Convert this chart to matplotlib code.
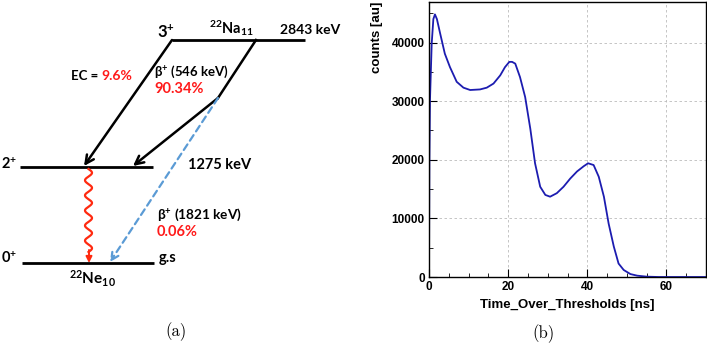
import numpy as np
import matplotlib
matplotlib.use("Agg")
import matplotlib.pyplot as plt
from matplotlib.ticker import MultipleLocator

plt.rcParams['mathtext.fontset'] = 'custom'
plt.rcParams['mathtext.rm'] = 'Lato:bold'
plt.rcParams['mathtext.it'] = 'Lato:bold'
plt.rcParams['mathtext.bf'] = 'Lato:bold'

# right panel: ToT spectrum
tot_ns = [0, 0.1, 0.25, 0.68, 1.1, 1.5, 2.0, 2.8, 4.0, 5.3, 7.0, 8.7, 10.4,
          12.9, 14.6, 16.3, 18.0, 19.2, 20.3, 21.0, 21.8, 23.0, 24.3, 25.6,
          26.8, 28.1, 29.4, 30.6, 32.3, 34.0, 35.7, 37.4, 39.1, 40.2, 41.6,
          42.9, 44.2, 45.4, 46.7, 47.9, 49.2, 50.9, 52.6, 55.0, 58.0, 70.0]
counts = [0, 20000, 30200, 39800, 44000, 44800, 44000, 41600, 38100, 35800,
          33300, 32300, 31900, 32000, 32300, 33000, 34400, 35800, 36700, 36700,
          36400, 34100, 30700, 25300, 19400, 15400, 14000, 13700, 14300, 15400,
          16800, 18000, 18900, 19400, 19100, 17100, 13700, 9100, 5200, 2300,
          1200, 500, 230, 60, 0, 0]
x_ticks = [0, 20, 40, 60]
y_ticks = [0, 10000, 20000, 30000, 40000]

# left panel: 22Na decay scheme (schematic layout in figure pixels)
level_spins = ["3$^{+}$", "2$^{+}$", "0$^{+}$"]
level_energies = ["2843 keV", "1275 keV", "g.s"]
ec_branch = "9.6%"
beta_main = ("β$^{+}$ (546 keV)", "90.34%")
beta_minor = ("β$^{+}$ (1821 keV)", "0.06%")

fig = plt.figure(figsize=(7.07, 3.44), dpi=100)

dg = fig.add_axes([0, 0, 1, 1])
dg.set_xlim(0, 707)
dg.set_ylim(344, 0)
dg.axis('off')

bold = dict(family=['Lato', 'DejaVu Sans'], weight='bold')
red = '#ff1a1a'

# levels
lv_y = [40, 167, 263]
lv_x = [(172, 305), (20, 153), (22, 154)]
for (x0, x1), y in zip(lv_x, lv_y):
    dg.plot([x0, x1], [y, y], color='black', lw=2.0, solid_capstyle='butt')

dg.text(157, 32, level_spins[0], fontsize=12, va='center', ha='left', **bold)
dg.text(1, 164, level_spins[1], fontsize=10.5, va='center', ha='left', **bold)
dg.text(1, 258, level_spins[2], fontsize=10.5, va='center', ha='left', **bold)
dg.text(280, 30, level_energies[0], fontsize=10, va='center', ha='left', **bold)
dg.text(188, 165, level_energies[1], fontsize=10.5, va='center', ha='left', **bold)
dg.text(159, 258, level_energies[2], fontsize=10.5, va='center', ha='left', **bold)
dg.text(209, 28, "$^{22}$Na$_{11}$", fontsize=10.5, va='center', ha='left', **bold)
dg.text(69, 279, "$^{22}$Ne$_{10}$", fontsize=11, va='center', ha='left', **bold)

# EC branch
arr = dict(arrowstyle='->', color='black', lw=1.8, mutation_scale=15,
           shrinkA=0, shrinkB=0)
dg.annotate("", xy=(84, 166), xytext=(172, 40), arrowprops=arr)
t_ec = dg.text(71, 76, "EC = ", fontsize=9.5, va='center', ha='left', **bold)
dg.annotate(ec_branch, xy=(1, 0.5), xycoords=t_ec, va='center', ha='left',
            fontsize=10, color=red, **bold)

# beta+ main
dg.plot([256, 218], [40, 98], color='black', lw=1.8)
dg.annotate("", xy=(133, 166), xytext=(218, 98), arrowprops=arr)
dg.text(154, 72, beta_main[0], fontsize=9.5, va='center', ha='left', **bold)
dg.text(154, 89, beta_main[1], fontsize=10.5, va='center', ha='left', color=red, **bold)

# beta+ to ground state
dg.annotate("", xy=(110, 262), xytext=(218, 98),
            arrowprops=dict(arrowstyle='->', color='#5b9bd5', lw=1.6,
                            linestyle=(0, (3, 2)), mutation_scale=13,
                            shrinkA=0, shrinkB=0))
dg.text(157, 215, beta_minor[0], fontsize=9.8, va='center', ha='left', **bold)
dg.text(157, 232, beta_minor[1], fontsize=10.5, va='center', ha='left', color=red, **bold)

# gamma (wavy)
wy = np.linspace(169, 252, 300)
wx = 88.5 + 3.5 * np.sin((wy - 169) / 83 * 2 * np.pi * 5.5)
dg.plot(wx, wy, color='#ff2a10', lw=1.6)
dg.annotate("", xy=(89, 263), xytext=(89, 250),
            arrowprops=dict(arrowstyle='-|>', color='#ff2a10', lw=1.4,
                            mutation_scale=9, shrinkA=0, shrinkB=0))

# captions
dg.text(176, 332, "(a)", fontsize=12, family='cmr10', ha='center', va='center')
dg.text(543, 334, "(b)", fontsize=12, family='cmr10', ha='center', va='center')

# spectrum
ax = fig.add_axes([429 / 707, 1 - 277 / 344, 277 / 707, 275.5 / 344])
ax.plot(tot_ns, counts, color='#1c1cb0', lw=1.3)
ax.set_xlim(0, 70)
ax.set_ylim(0, 47000)
ax.set_xticks(x_ticks)
ax.set_yticks(y_ticks)
ax.xaxis.set_minor_locator(MultipleLocator(5))
ax.yaxis.set_minor_locator(MultipleLocator(5000))
ax.tick_params(which='both', direction='in', top=False, right=False,
               labelsize=8.5, pad=3)
ax.tick_params(which='major', length=6)
ax.tick_params(which='minor', length=3)
for lab in ax.get_xticklabels() + ax.get_yticklabels():
    lab.set_family('Liberation Sans')
    lab.set_weight('bold')
ax.grid(True, which='major', color='#bbbbbb', linestyle=(0, (3, 3)), lw=0.6)
for s in ax.spines.values():
    s.set_linewidth(1.0)
ax.set_xlabel("Time_Over_Thresholds [ns]", family='Liberation Sans',
              weight='bold', fontsize=9.5, labelpad=4)
ax.set_ylabel("counts [au]", family='Liberation Sans', weight='bold',
              fontsize=9.5, loc='top', labelpad=6)

fig.savefig("out.png", dpi=100)
